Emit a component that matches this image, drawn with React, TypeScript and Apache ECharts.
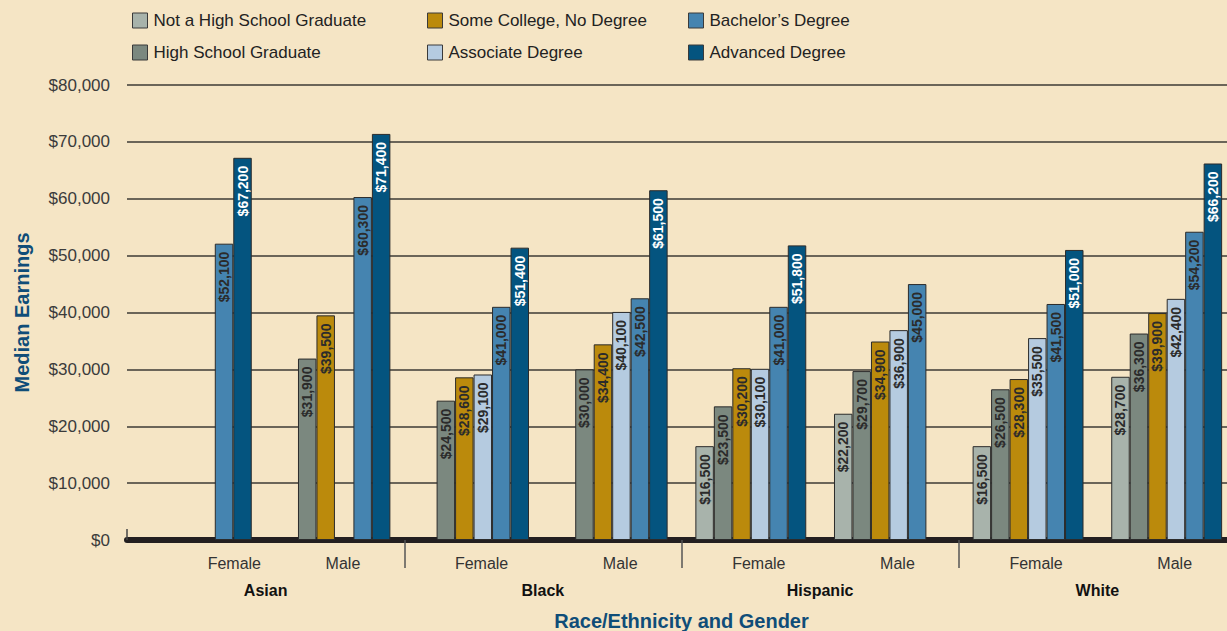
import React, { useEffect, useRef } from 'react';
import * as echarts from 'echarts';

const races = ['Asian', 'Black', 'Hispanic', 'White'];
const genders = ['Female', 'Male'];
const categories = races.flatMap((r) => genders.map((g) => `${r}|${g}`));

const seriesNames = [
  'Not a High School Graduate',
  'High School Graduate',
  'Some College, No Degree',
  'Associate Degree',
  'Bachelor\u2019s Degree',
  'Advanced Degree',
];

// order: Asian F, Asian M, Black F, Black M, Hispanic F, Hispanic M, White F, White M
const notHighSchool = [null, null, null, null, 16500, 22200, 16500, 28700];
const highSchool = [null, 31900, 24500, 30000, 23500, 29700, 26500, 36300];
const someCollege = [null, 39500, 28600, 34400, 30200, 34900, 28300, 39900];
const associate = [null, null, 29100, 40100, 30100, 36900, 35500, 42400];
const bachelor = [52100, 60300, 41000, 42500, 41000, 45000, 41500, 54200];
const advanced = [67200, 71400, 51400, 61500, 51800, null, 51000, 66200];

const seriesValues = [notHighSchool, highSchool, someCollege, associate, bachelor, advanced];
const seriesColors = ['#a8b3ab', '#7b887f', '#bb8a0c', '#b5cbe0', '#4584b0', '#04547f'];
const labelColors = ['#2b2b2b', '#2b2b2b', '#2b2b2b', '#2b2b2b', '#2b2b2b', '#ffffff'];

const yMin = 0;
const yMax = 80000;
const yInterval = 10000;

const FONT = '"Liberation Sans", Arial, Helvetica, sans-serif';
const BG = '#f5e5c5';

const money = (v: number) => '$' + Number(v).toLocaleString('en-US');

export default function App() {
  const ref = useRef<HTMLDivElement>(null);

  useEffect(() => {
    document.body.style.margin = '0';
    document.body.style.background = BG;
    if (!ref.current) return;
    const chart = echarts.init(ref.current, undefined, { renderer: 'svg' });

    const legendCol = (names: string[], left: number) => ({
      data: names,
      left,
      top: 12,
      orient: 'vertical',
      padding: 0,
      itemGap: 15,
      itemWidth: 15,
      itemHeight: 15,
      icon: 'rect',
      itemStyle: { borderColor: '#3a3a3a', borderWidth: 1 },
      textStyle: { fontFamily: FONT, fontSize: 17, color: '#222', padding: [0, 0, 0, 1] },
      selectedMode: false,
    });

    chart.setOption({
      animation: false,
      backgroundColor: BG,
      textStyle: { fontFamily: FONT },
      legend: [
        legendCol([seriesNames[0], seriesNames[1]], 132),
        legendCol([seriesNames[2], seriesNames[3]], 427),
        legendCol([seriesNames[4], seriesNames[5]], 688),
      ],
      grid: { left: 127, right: 0, top: 85, bottom: 91, containLabel: false, outerBoundsMode: 'none' },
      xAxis: [
        {
          type: 'category',
          data: categories,
          offset: 2,
          axisLine: { show: true, lineStyle: { color: '#231f20', width: 6 } },
          axisTick: { show: false },
          axisLabel: {
            margin: 13,
            interval: 0,
            formatter: (v: string, i: number) => {
              const g = v.split('|')[1];
              return i === 0 ? `{a|${g}}` : `{b|${g}}`;
            },
            rich: {
              a: { fontFamily: FONT, fontSize: 16, color: '#333', padding: [0, 0, 0, 76] },
              b: { fontFamily: FONT, fontSize: 16, color: '#333', padding: [0, 0, 0, 16] },
            },
          },
          splitLine: { show: false },
        },
        {
          type: 'category',
          data: races,
          position: 'bottom',
          axisLine: { show: false },
          axisTick: {
            show: true,
            length: 28,
            interval: (i: number) => i > 0,
            lineStyle: { color: '#555', width: 1.5 },
          },
          axisLabel: {
            margin: 42,
            interval: 0,
            fontFamily: FONT,
            fontSize: 16,
            fontWeight: 'bold',
            color: '#111',
          },
          name: 'Race/Ethnicity and Gender',
          nameLocation: 'middle',
          nameGap: 71,
          nameTextStyle: { fontFamily: FONT, fontSize: 20, fontWeight: 'bold', color: '#0f4d78' },
        },
      ],
      yAxis: {
        type: 'value',
        min: yMin,
        max: yMax,
        interval: yInterval,
        axisLine: { show: false },
        axisTick: { show: false },
        axisLabel: {
          margin: 17,
          fontFamily: FONT,
          fontSize: 17,
          color: '#3b3b3b',
          formatter: (v: number) => money(v),
        },
        splitLine: { show: true, lineStyle: { color: '#3d3a35', width: 1.5 } },
        name: 'Median Earnings',
        nameLocation: 'middle',
        nameGap: 95,
        nameTextStyle: { fontFamily: FONT, fontSize: 20, fontWeight: 'bold', color: '#0f4d78' },
      },
      graphic: [
        {
          type: 'line',
          shape: { x1: 127, y1: 529, x2: 127, y2: 540 },
          style: { stroke: '#444', lineWidth: 1.5 },
          z: 10,
        },
      ],
      series: seriesNames.map((name, k) => ({
        name,
        type: 'bar',
        xAxisIndex: 0,
        data: seriesValues[k],
        barGap: '0%',
        barCategoryGap: '20%',
        itemStyle: { color: seriesColors[k], borderColor: '#2b2b2b', borderWidth: 1 },
        label: {
          show: true,
          position: 'insideTop',
          rotate: 90,
          align: 'right',
          verticalAlign: 'middle',
          distance: 8,
          fontFamily: FONT,
          fontSize: 14,
          fontWeight: 'bold',
          color: labelColors[k],
          formatter: (p: any) => money(p.value),
        },
      })),
    });

    return () => chart.dispose();
  }, []);

  return (
    <div style={{ position: 'absolute', left: 0, top: 0, width: 1227, height: 631, overflow: 'hidden', background: BG }}>
      <div ref={ref} style={{ width: 1236, height: 631 }} />
    </div>
  );
}
